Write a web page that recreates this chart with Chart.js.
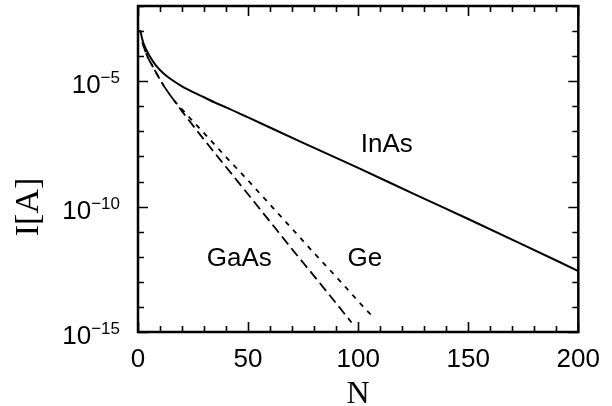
<!DOCTYPE html>
<html>
<head>
<meta charset="utf-8">
<script src="https://cdn.jsdelivr.net/npm/chart.js@4/dist/chart.umd.min.js"></script>
<style>
    html, body { margin: 0; padding: 0; background: #fff; }
    #wrap { width: 612px; height: 406px; }
</style>
</head>
<body>
<div id="wrap"><canvas id="chart" width="612" height="406"></canvas></div>
<script>
// values (current in A vs N)
var inasN = [1, 2, 3, 5, 8, 11.5, 15, 20, 25, 30, 35, 40, 50, 75, 100, 125, 150, 175, 200]
var inasI = [1.1e-3, 4.5e-4, 2.5e-4, 1.1e-4, 4.4e-5, 2.1e-5, 1.2e-5, 6.3e-6, 3.7e-6, 2.3e-6, 1.4e-6, 9.1e-7, 3.6e-7, 3.5e-8, 3.5e-9, 3.3e-10, 3.2e-11, 3.0e-12, 2.7e-13]

var gaasN = [2, 4, 7, 11.5, 16, 20, 30, 40, 50, 60, 70, 80, 90, 97]
var gaasI = [3.5e-4, 1.1e-4, 3.5e-5, 7.0e-6, 1.9e-6, 6.3e-7, 4.7e-8, 3.8e-9, 3.1e-10, 2.5e-11, 2.0e-12, 1.7e-13, 1.4e-14, 2.4e-15]

var geN = [2, 4, 7, 11.5, 16, 20, 25, 30, 40, 50, 60, 70, 80, 90, 100, 106.5]
var geI = [3.5e-4, 1.1e-4, 3.5e-5, 7.0e-6, 1.9e-6, 7.6e-7, 2.5e-7, 8.5e-8, 9.5e-9, 1.1e-9, 1.2e-10, 1.3e-11, 1.4e-12, 1.6e-13, 1.7e-14, 4.2e-15]

var xTicks = [0, 50, 100, 150, 200]
var yExpLabels = [-15, -10, -5]
var curveLabels = [
    { text: 'InAs', n: 113, i: 3e-8 },
    { text: 'GaAs', n: 46, i: 8.3e-13 },
    { text: 'Ge', n: 103, i: 8.3e-13 }
]

var toXY = function (xs, ys) {
    return xs.map(function (x, k) { return { x: x, y: ys[k] } })
}

var sans = '"Liberation Sans", Arial, sans-serif'
var serif = '"Liberation Serif", "Times New Roman", serif'

// frame, inward ticks, superscript labels and curve names
var decorations = {
    id: 'decorations',
    afterDraw: function (chart) {
        var ctx = chart.ctx
        var a = chart.chartArea
        var xs = chart.scales.x
        var ys = chart.scales.y
        ctx.save()
        ctx.strokeStyle = '#000'
        ctx.fillStyle = '#000'

        ctx.lineWidth = 1.6
        ctx.beginPath()
        for (var v = 0; v <= 200; v += 10) {
            var px = Math.round(xs.getPixelForValue(v)) + 0.5
            var len = v % 50 === 0 ? 10 : 6
            ctx.moveTo(px, a.bottom); ctx.lineTo(px, a.bottom - len)
            ctx.moveTo(px, a.top); ctx.lineTo(px, a.top + len)
        }
        for (var e = -15; e <= -2; e++) {
            var py = Math.round(ys.getPixelForValue(Math.pow(10, e))) + 0.5
            var l = e % 5 === 0 ? 10 : 6
            ctx.moveTo(a.left, py); ctx.lineTo(a.left + l, py)
            ctx.moveTo(a.right, py); ctx.lineTo(a.right - l, py)
        }
        ctx.stroke()

        ctx.lineWidth = 2.5
        ctx.strokeRect(a.left, a.top, a.right - a.left, a.bottom - a.top)

        // y tick labels 10^n
        ctx.textAlign = 'right'
        ctx.textBaseline = 'alphabetic'
        yExpLabels.forEach(function (ex) {
            var py = ys.getPixelForValue(Math.pow(10, ex))
            ctx.font = '17px ' + sans
            var sup = '\u2212' + String(-ex)
            var w = ctx.measureText(sup).width
            ctx.fillText(sup, 120, py + 2)
            ctx.font = '26px ' + sans
            ctx.fillText('10', 120 - w, py + 12)
        })

        // curve names
        ctx.font = '26px ' + sans
        ctx.textAlign = 'center'
        ctx.textBaseline = 'middle'
        curveLabels.forEach(function (c) {
            ctx.fillText(c.text, xs.getPixelForValue(c.n), ys.getPixelForValue(c.i))
        })

        // y axis title
        ctx.translate(29, 207)
        ctx.rotate(-Math.PI / 2)
        ctx.font = '34px ' + serif
        ctx.fillText('I[A]', 0, 0)
        ctx.restore()
    }
}

new Chart(document.getElementById('chart').getContext('2d'), {
    type: 'line',
    plugins: [decorations],
    data: {
        datasets: [{
            label: 'InAs',
            data: toXY(inasN, inasI),
            borderColor: '#000',
            borderWidth: 2,
            pointRadius: 0,
            cubicInterpolationMode: 'monotone'
        }, {
            label: 'GaAs',
            data: toXY(gaasN, gaasI),
            borderColor: '#000',
            borderWidth: 1.8,
            borderDash: [10, 5],
            pointRadius: 0,
            cubicInterpolationMode: 'monotone'
        }, {
            label: 'Ge',
            data: toXY(geN, geI),
            borderColor: '#000',
            borderWidth: 1.8,
            borderDash: [5, 6],
            pointRadius: 0,
            cubicInterpolationMode: 'monotone'
        }]
    },
    options: {
        responsive: false,
        animation: false,
        layout: {
            padding: { left: 0, right: 32, top: 6, bottom: 0 }
        },
        plugins: {
            legend: { display: false },
            tooltip: { enabled: false }
        },
        scales: {
            x: {
                type: 'linear',
                min: 0,
                max: 200,
                afterFit: function (scale) { scale.height = 74 },
                afterBuildTicks: function (scale) {
                    scale.ticks = xTicks.map(function (v) { return { value: v } })
                },
                grid: { display: false, drawTicks: false },
                border: { display: false },
                ticks: {
                    color: '#000',
                    padding: 12,
                    maxRotation: 0,
                    font: { family: sans, size: 26 }
                },
                title: {
                    display: true,
                    text: 'N',
                    color: '#000',
                    padding: { top: 0, bottom: -8 },
                    font: { family: serif, size: 32 }
                }
            },
            y: {
                type: 'logarithmic',
                min: 1e-15,
                max: 1e-2,
                afterFit: function (scale) { scale.width = 138 },
                grid: { display: false, drawTicks: false },
                border: { display: false },
                ticks: { display: false }
            }
        }
    }
})
</script>
</body>
</html>
